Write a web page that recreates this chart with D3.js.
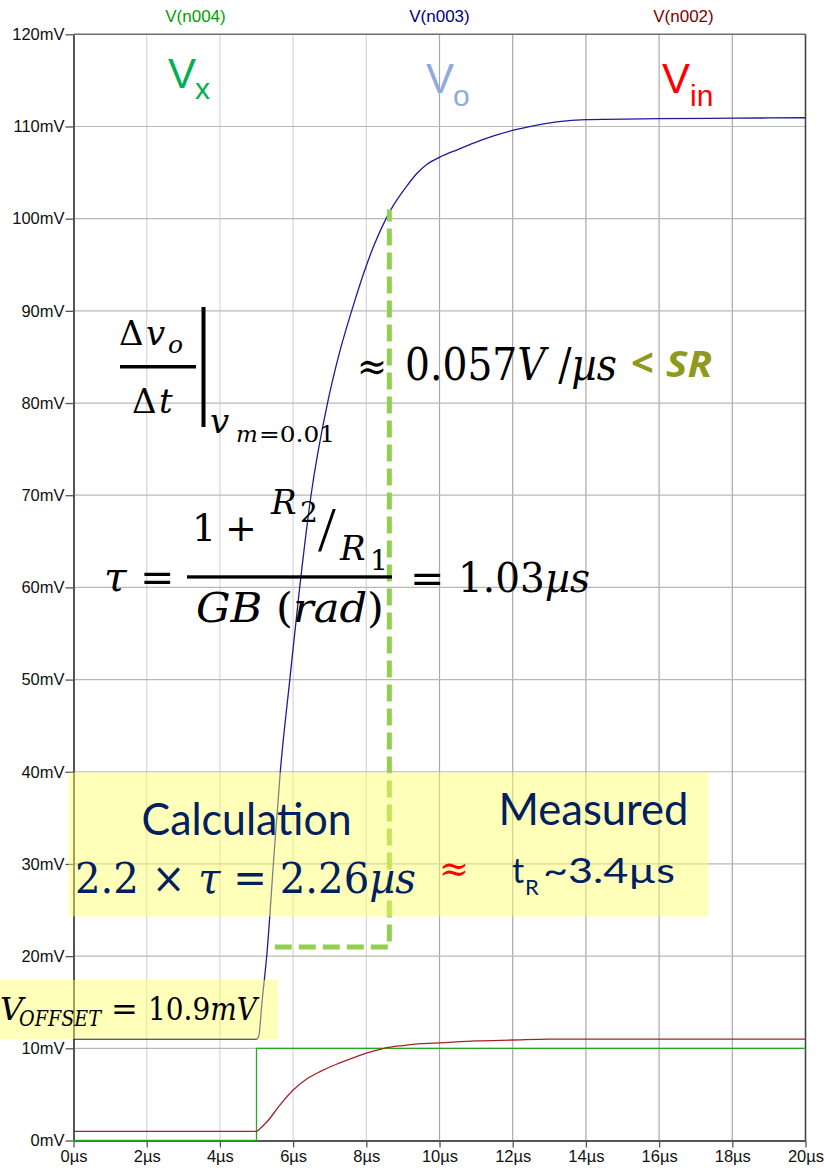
<!DOCTYPE html>
<html>
<head>
<meta charset="utf-8">
<script src="https://cdn.jsdelivr.net/npm/d3@7"></script>
<style>
  body { margin: 0; background: #fff; }
  svg { display: block; }
</style>
</head>
<body>
<div id="stage"></div>
<script>
// ---- chart data ----
var x_ticks = [0, 2, 4, 6, 8, 10, 12, 14, 16, 18, 20]; // µs
var y_ticks = [0, 10, 20, 30, 40, 50, 60, 70, 80, 90, 100, 110, 120]; // mV

var trace_names = ["V(n004)", "V(n003)", "V(n002)"];

// V(n003) = Vo
var vo_t = [0, 5.0, 5.06, 5.15, 5.29, 5.47, 5.65, 5.91, 6.18, 6.49, 6.94, 7.25, 7.6, 8.0, 8.2, 8.66, 9.1, 9.38, 9.66, 10.02, 10.5, 10.93, 11.5, 12.02, 12.6, 13.2, 14.0, 16, 18, 20];
var vo_mv = [11.0, 11.0, 11.3, 15.0, 20.5, 30.5, 40, 50, 60, 70, 80, 85.2, 90, 94.9, 97.0, 100.9, 103.5, 104.9, 105.9, 106.7, 107.5, 108.2, 109.0, 109.6, 110.1, 110.5, 110.75, 110.85, 110.9, 110.95];

// V(n002) = Vin
var vin_t = [0, 5.0, 5.1, 5.28, 5.65, 6.01, 6.4, 6.75, 7.2, 7.6, 8.02, 8.48, 9.0, 9.48, 10.0, 11.0, 12.0, 13.0, 14.0, 16, 18, 20];
var vin_mv = [1.0, 1.0, 1.3, 2.0, 3.9, 5.5, 6.75, 7.5, 8.3, 8.9, 9.5, 10.0, 10.3, 10.5, 10.6, 10.8, 10.9, 11.0, 11.0, 11.0, 11.0, 11.0];

// V(n004) = Vx
var vx_t = [0, 5, 5, 20];
var vx_mv = [0, 0, 10, 10];

// 10% / 90% rise time markers of Vo
var rise_t = [5.5, 8.63];
var rise_mv = [21, 101];

var stage_width = 825;
var stage_height = 1171;
var math_font = "'DejaVu Serif', serif";
var sans_font = "'Liberation Sans', Arial, sans-serif";

build_scene();

function zip_points(ts, vs) {
  return ts.map(function(t, i) {
    return { t: t, v: vs[i] };
  });
}

// small helper for positioned text pieces
function add_text(parent, px, py, str, size, opts) {
  opts = opts || {};
  var t = parent
    .append("text")
    .attr("x", px)
    .attr("y", py)
    .attr("font-family", opts.family || math_font)
    .attr("font-size", size)
    .attr("fill", opts.fill || "#000")
    .text(str);
  if (opts.italic) t.attr("font-style", "italic");
  if (opts.bold) t.attr("font-weight", "bold");
  if (opts.len) t.attr("textLength", opts.len).attr("lengthAdjust", "spacingAndGlyphs");
  if (opts.anchor) t.attr("text-anchor", opts.anchor);
  return t;
}

// text built of pieces, some italic
function add_rich(parent, px, py, pieces, size, opts) {
  opts = opts || {};
  var t = parent
    .append("text")
    .attr("x", px)
    .attr("y", py)
    .attr("font-family", opts.family || math_font)
    .attr("font-size", size)
    .attr("fill", opts.fill || "#000");
  pieces.forEach(function(p) {
    var s = t.append("tspan").text(p[0]);
    if (p[1]) s.attr("font-style", "italic");
  });
  if (opts.len) t.attr("textLength", opts.len).attr("lengthAdjust", "spacingAndGlyphs");
  return t;
}

function build_scene() {
  document.getElementById("stage").innerHTML = "";

  var margin = { top: 34.3, right: 19.5, bottom: 30.5, left: 73.5 },
    chart_width = stage_width - margin.left - margin.right,
    chart_height = stage_height - margin.top - margin.bottom;

  var x = d3.scaleLinear().domain([0, 20]).range([0, chart_width]);
  var y = d3.scaleLinear().domain([0, 120]).range([chart_height, 0]);

  var svg = d3
    .select("#stage")
    .append("svg")
    .attr("width", stage_width)
    .attr("height", stage_height);

  var g = svg
    .append("g")
    .attr("transform", "translate(" + margin.left + "," + margin.top + ")");

  // grid
  g.selectAll(".vgrid")
    .data(x_ticks.slice(1, -1))
    .enter()
    .append("line")
    .attr("x1", function(d) { return x(d); })
    .attr("x2", function(d) { return x(d); })
    .attr("y1", 0)
    .attr("y2", chart_height)
    .attr("stroke", function(d) { return d < 10 ? "#d6d6d6" : "#a9a9a9"; })
    .attr("stroke-width", 1.2);

  g.selectAll(".hgrid")
    .data(y_ticks.slice(1, -1))
    .enter()
    .append("line")
    .attr("x1", 0)
    .attr("x2", chart_width)
    .attr("y1", function(d) { return y(d); })
    .attr("y2", function(d) { return y(d); })
    .attr("stroke", "#b8b8b8")
    .attr("stroke-width", 1.2);

  // frame top / right
  g.append("line")
    .attr("x1", 0).attr("x2", chart_width)
    .attr("y1", 0).attr("y2", 0)
    .attr("stroke", "#6e6e6e").attr("stroke-width", 1.6);
  g.append("line")
    .attr("x1", chart_width).attr("x2", chart_width)
    .attr("y1", 0).attr("y2", chart_height)
    .attr("stroke", "#444").attr("stroke-width", 1.6);

  // axes
  var y_axis = g
    .append("g")
    .call(
      d3.axisLeft(y)
        .tickValues(y_ticks)
        .tickSize(8)
        .tickSizeOuter(0)
        .tickPadding(1)
        .tickFormat(function(d) { return d + "mV"; })
    );
  var x_axis = g
    .append("g")
    .attr("transform", "translate(0," + chart_height + ")")
    .call(
      d3.axisBottom(x)
        .tickValues(x_ticks)
        .tickSize(7)
        .tickSizeOuter(0)
        .tickPadding(3)
        .tickFormat(function(d) { return d + "µs"; })
    );
  [y_axis, x_axis].forEach(function(a) {
    a.select(".domain").attr("stroke", "#555").attr("stroke-width", 2);
    a.selectAll(".tick line").attr("stroke", "#555").attr("stroke-width", 1.3);
    a.selectAll(".tick text")
      .attr("font-family", sans_font)
      .attr("font-size", 16.5)
      .attr("fill", "#111");
  });

  // trace names on top
  var name_colors = ["#00a000", "#000080", "#800000"];
  g.selectAll(".tname")
    .data(trace_names)
    .enter()
    .append("text")
    .attr("x", function(d, i) { return chart_width * (2 * i + 1) / 6; })
    .attr("y", -12)
    .attr("text-anchor", "middle")
    .attr("font-family", sans_font)
    .attr("font-size", 17)
    .attr("fill", function(d, i) { return name_colors[i]; })
    .text(function(d) { return d; });

  // traces
  var step_line = d3.line()
    .x(function(d) { return x(d.t); })
    .y(function(d) { return y(d.v); });
  var smooth_line = d3.line()
    .curve(d3.curveMonotoneX)
    .x(function(d) { return x(d.t); })
    .y(function(d) { return y(d.v); });

  var traces = [
    { pts: zip_points(vx_t, vx_mv), color: "#22aa22", gen: step_line },
    { pts: zip_points(vin_t, vin_mv), color: "#a3232b", gen: smooth_line },
    { pts: zip_points(vo_t, vo_mv), color: "#1c1c96", gen: smooth_line }
  ];
  traces.forEach(function(tr) {
    g.append("path")
      .datum(tr.pts)
      .attr("d", tr.gen)
      .attr("fill", "none")
      .attr("stroke", tr.color)
      .attr("stroke-width", 1.3);
  });

  // rise time marker (dashed)
  var rise_pts = [
    { t: rise_t[0], v: rise_mv[0] },
    { t: rise_t[1], v: rise_mv[0] },
    { t: rise_t[1], v: rise_mv[1] }
  ];
  g.append("path")
    .datum(rise_pts)
    .attr("d", step_line)
    .attr("fill", "none")
    .attr("stroke", "#92d050")
    .attr("stroke-width", 5)
    .attr("stroke-dasharray", "17,7");

  // yellow note boxes
  svg.append("rect")
    .attr("x", 68.5).attr("y", 772.5)
    .attr("width", 640).attr("height", 144)
    .attr("fill", "#ffff66").attr("opacity", 0.45);
  svg.append("rect")
    .attr("x", 0).attr("y", 980)
    .attr("width", 278).attr("height", 59)
    .attr("fill", "#ffff66").attr("opacity", 0.45);

  // ---- annotations ----
  // big trace labels
  add_text(svg, 168, 88, "V", 42, { family: sans_font, fill: "#00b050" });
  add_text(svg, 195, 99, "x", 30, { family: sans_font, fill: "#00b050" });
  add_text(svg, 426, 93, "V", 42, { family: sans_font, fill: "#8faadc" });
  add_text(svg, 453, 106, "o", 30, { family: sans_font, fill: "#8faadc" });
  add_text(svg, 662, 93, "V", 42, { family: sans_font, fill: "#ff0000" });
  add_text(svg, 690, 106, "in", 30, { family: sans_font, fill: "#ff0000" });

  // slope formula
  add_text(svg, 119, 345, "Δ", 34);
  add_text(svg, 146, 345, "v", 34, { italic: true });
  add_text(svg, 168, 353, "o", 25, { italic: true });
  svg.append("rect").attr("x", 120).attr("y", 365).attr("width", 76).attr("height", 3.5).attr("fill", "#000");
  add_text(svg, 132, 413, "Δ", 34);
  add_text(svg, 159, 413, "t", 34, { italic: true });
  svg.append("rect").attr("x", 201.5).attr("y", 307).attr("width", 4).attr("height", 120).attr("fill", "#000");
  add_text(svg, 210, 433, "v", 34, { italic: true });
  add_text(svg, 236, 442, "m", 23, { italic: true });
  add_text(svg, 259, 442, "=0.01", 23, { len: 76 });
  add_text(svg, 357, 380, "≈", 40, { len: 30 });
  add_rich(svg, 405, 380, [["0.057", false], ["V", true], [" /", false], ["µs", true]], 44, { len: 212 });
  add_text(svg, 631, 377, "<", 40, { family: "'Open Sans', sans-serif", bold: true, fill: "#8f9a1c" });
  add_text(svg, 666, 377, "SR", 36, { family: "'Open Sans', sans-serif", bold: true, italic: true, fill: "#8f9a1c", len: 46 });

  // time constant formula
  add_text(svg, 104, 591, "τ", 41, { italic: true });
  add_text(svg, 140, 591, "=", 41);
  svg.append("rect").attr("x", 187).attr("y", 575.3).attr("width", 205).attr("height", 3.3).attr("fill", "#000");
  add_text(svg, 192, 541, "1", 38);
  add_text(svg, 225, 541, "+", 38);
  add_text(svg, 271, 514, "R", 34, { italic: true });
  add_text(svg, 300, 522, "2", 28);
  add_text(svg, 318, 551, "/", 64, { family: "'Liberation Serif', serif" });
  add_text(svg, 340, 560, "R", 34, { italic: true });
  add_text(svg, 370, 570, "1", 28);
  add_rich(svg, 196, 622, [["GB ", true], ["(", false], ["rad", true], [")", false]], 41, { len: 188 });
  add_text(svg, 410, 592, "=", 41);
  add_rich(svg, 458, 592, [["1.03", false], ["µs", true]], 41, { len: 132 });

  // calculation vs measurement
  add_text(svg, 141.6, 835, "Calculation", 44, { family: "Lato, sans-serif", fill: "#002060", len: 210 });
  add_text(svg, 498.5, 825, "Measured", 44, { family: "Lato, sans-serif", fill: "#002060", len: 190 });
  add_rich(svg, 75, 893, [["2.2 × ", false], ["τ", true], [" = 2.26", false], ["µs", true]], 43, { fill: "#002060", len: 341 });
  add_text(svg, 439, 881, "≈", 36, { fill: "#ff0000", len: 30 });
  add_text(svg, 512, 883, "t", 34, { family: "Lato, sans-serif", fill: "#002060" });
  add_text(svg, 525, 895, "R", 22, { family: "Lato, sans-serif", fill: "#002060" });
  add_text(svg, 543, 883, "~3.4µs", 34, { family: "Lato, sans-serif", fill: "#002060", len: 132 });

  // offset note
  add_text(svg, 0, 1020, "V", 32, { italic: true });
  add_text(svg, 19, 1026, "OFFSET", 23, { italic: true, len: 82 });
  add_text(svg, 111, 1020, "=", 32);
  add_rich(svg, 148, 1020, [["10.9", false], ["mV", true]], 32, { len: 109 });
}
</script>
</body>
</html>
